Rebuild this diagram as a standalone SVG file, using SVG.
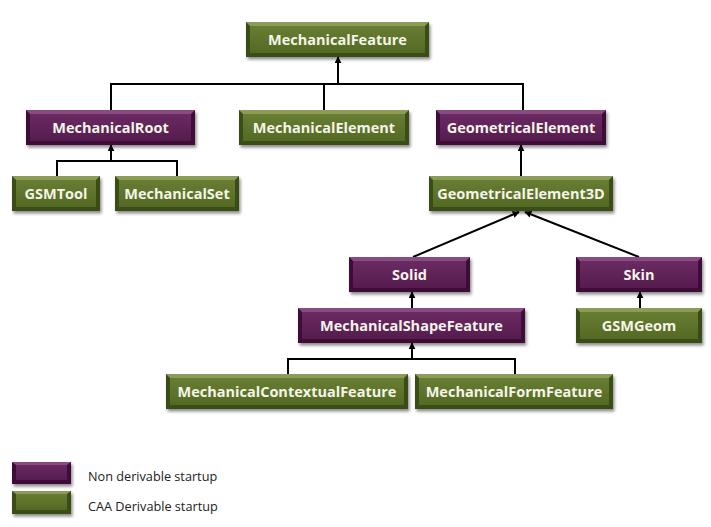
<svg xmlns="http://www.w3.org/2000/svg" width="711" height="527" viewBox="0 0 711 527">
<defs>
  <linearGradient id="gp" x1="0" y1="0" x2="0" y2="1">
    <stop offset="0" stop-color="#6a2a62"/>
    <stop offset="1" stop-color="#561c4e"/>
  </linearGradient>
  <linearGradient id="gg" x1="0" y1="0" x2="0" y2="1">
    <stop offset="0" stop-color="#687d33"/>
    <stop offset="1" stop-color="#546a24"/>
  </linearGradient>
  <filter id="sh" x="-10%" y="-20%" width="120%" height="160%">
    <feDropShadow dx="1.5" dy="2.5" stdDeviation="1.5" flood-color="#000" flood-opacity="0.45"/>
  </filter>
  <marker id="ar" viewBox="0 0 10 10" refX="9" refY="5" markerWidth="7" markerHeight="7" markerUnits="userSpaceOnUse" orient="auto">
    <path d="M0,0 L10,5 L0,10 z" fill="#000"/>
  </marker>
  <style>
    .p .base{fill:#3e1038;filter:url(#sh)}
    .p .hl{fill:#8a4a82}
    .p .face{fill:url(#gp)}
    .g .base{fill:#3a4d14;filter:url(#sh)}
    .g .hl{fill:#8a9c55}
    .g .face{fill:url(#gg)}
    .t{font-family:"Open Sans","Liberation Sans",sans-serif;font-weight:bold;font-size:14.5px;fill:#f4f4e8;text-anchor:middle}
    .lg{font-family:"Open Sans","Liberation Sans",sans-serif;font-size:12.7px;fill:#222}
    .c line,.c polyline{stroke:#000;stroke-width:2;fill:none}
    .c .a{marker-end:url(#ar)}
  </style>
</defs>
<rect width="711" height="527" fill="#fff"/>

<g class="c" id="connectors">
  <polyline points="111,110 111,84 523,84 523,110"/>
  <line x1="324" y1="84" x2="324" y2="110"/>
  <line class="a" x1="338" y1="84" x2="338" y2="57"/>
  <polyline points="57,176 57,161 177,161 177,176"/>
  <line class="a" x1="111" y1="161" x2="111" y2="145"/>
  <line class="a" x1="521" y1="176" x2="521" y2="145"/>
  <line class="a" x1="413" y1="257" x2="519" y2="212"/>
  <line class="a" x1="639" y1="257" x2="525" y2="212"/>
  <line class="a" x1="412" y1="308" x2="412" y2="292"/>
  <polyline points="288,374 288,359 515,359 515,374"/>
  <line class="a" x1="412" y1="359" x2="412" y2="343"/>
  <line class="a" x1="640" y1="308" x2="640" y2="292"/>
</g>

<g id="MechanicalFeature" class="g">
  <rect class="base" x="246" y="22" width="183" height="35"/>
  <polygon class="hl" points="246,22 429,22 425,26 250,26"/>
  <rect class="face" x="250" y="26" width="175" height="27"/>
  <text class="t" x="337.5" y="45">MechanicalFeature</text>
</g>
<g id="MechanicalRoot" class="p">
  <rect class="base" x="26" y="110" width="169" height="35"/>
  <polygon class="hl" points="26,110 195,110 191,114 30,114"/>
  <rect class="face" x="30" y="114" width="161" height="27"/>
  <text class="t" x="110.5" y="133">MechanicalRoot</text>
</g>
<g id="MechanicalElement" class="g">
  <rect class="base" x="239" y="110" width="170" height="35"/>
  <polygon class="hl" points="239,110 409,110 405,114 243,114"/>
  <rect class="face" x="243" y="114" width="162" height="27"/>
  <text class="t" x="324" y="133">MechanicalElement</text>
</g>
<g id="GeometricalElement" class="p">
  <rect class="base" x="436" y="110" width="170" height="35"/>
  <polygon class="hl" points="436,110 606,110 602,114 440,114"/>
  <rect class="face" x="440" y="114" width="162" height="27"/>
  <text class="t" x="521" y="133">GeometricalElement</text>
</g>
<g id="GSMTool" class="g">
  <rect class="base" x="12" y="176" width="88" height="35"/>
  <polygon class="hl" points="12,176 100,176 96,180 16,180"/>
  <rect class="face" x="16" y="180" width="80" height="27"/>
  <text class="t" x="56" y="199">GSMTool</text>
</g>
<g id="MechanicalSet" class="g">
  <rect class="base" x="115" y="176" width="124" height="35"/>
  <polygon class="hl" points="115,176 239,176 235,180 119,180"/>
  <rect class="face" x="119" y="180" width="116" height="27"/>
  <text class="t" x="177" y="199">MechanicalSet</text>
</g>
<g id="GeometricalElement3D" class="g">
  <rect class="base" x="429" y="176" width="184" height="35"/>
  <polygon class="hl" points="429,176 613,176 609,180 433,180"/>
  <rect class="face" x="433" y="180" width="176" height="27"/>
  <text class="t" x="521" y="199">GeometricalElement3D</text>
</g>
<g id="Solid" class="p">
  <rect class="base" x="349" y="257" width="121" height="35"/>
  <polygon class="hl" points="349,257 470,257 466,261 353,261"/>
  <rect class="face" x="353" y="261" width="113" height="27"/>
  <text class="t" x="409.5" y="280">Solid</text>
</g>
<g id="Skin" class="p">
  <rect class="base" x="576" y="257" width="126" height="35"/>
  <polygon class="hl" points="576,257 702,257 698,261 580,261"/>
  <rect class="face" x="580" y="261" width="118" height="27"/>
  <text class="t" x="639" y="280">Skin</text>
</g>
<g id="MechanicalShapeFeature" class="p">
  <rect class="base" x="298" y="308" width="227" height="35"/>
  <polygon class="hl" points="298,308 525,308 521,312 302,312"/>
  <rect class="face" x="302" y="312" width="219" height="27"/>
  <text class="t" x="411.5" y="331">MechanicalShapeFeature</text>
</g>
<g id="GSMGeom" class="g">
  <rect class="base" x="576" y="308" width="126" height="35"/>
  <polygon class="hl" points="576,308 702,308 698,312 580,312"/>
  <rect class="face" x="580" y="312" width="118" height="27"/>
  <text class="t" x="639" y="331">GSMGeom</text>
</g>
<g id="MechanicalContextualFeature" class="g">
  <rect class="base" x="166" y="374" width="242" height="35"/>
  <polygon class="hl" points="166,374 408,374 404,378 170,378"/>
  <rect class="face" x="170" y="378" width="234" height="27"/>
  <text class="t" x="287" y="397">MechanicalContextualFeature</text>
</g>
<g id="MechanicalFormFeature" class="g">
  <rect class="base" x="415" y="374" width="198" height="35"/>
  <polygon class="hl" points="415,374 613,374 609,378 419,378"/>
  <rect class="face" x="419" y="378" width="190" height="27"/>
  <text class="t" x="514" y="397">MechanicalFormFeature</text>
</g>

<g id="legend-purple" class="p">
  <rect class="base" x="12" y="462" width="59" height="22"/>
  <polygon class="hl" points="12,462 71,462 67,465 16,465"/>
  <rect class="face" x="16" y="465" width="51" height="15"/>
  <text class="lg" x="88" y="481">Non derivable startup</text>
</g>
<g id="legend-green" class="g">
  <rect class="base" x="12" y="491" width="59" height="23"/>
  <polygon class="hl" points="12,491 71,491 67,494 16,494"/>
  <rect class="face" x="16" y="494" width="51" height="16"/>
  <text class="lg" x="88" y="511">CAA Derivable startup</text>
</g>
</svg>
